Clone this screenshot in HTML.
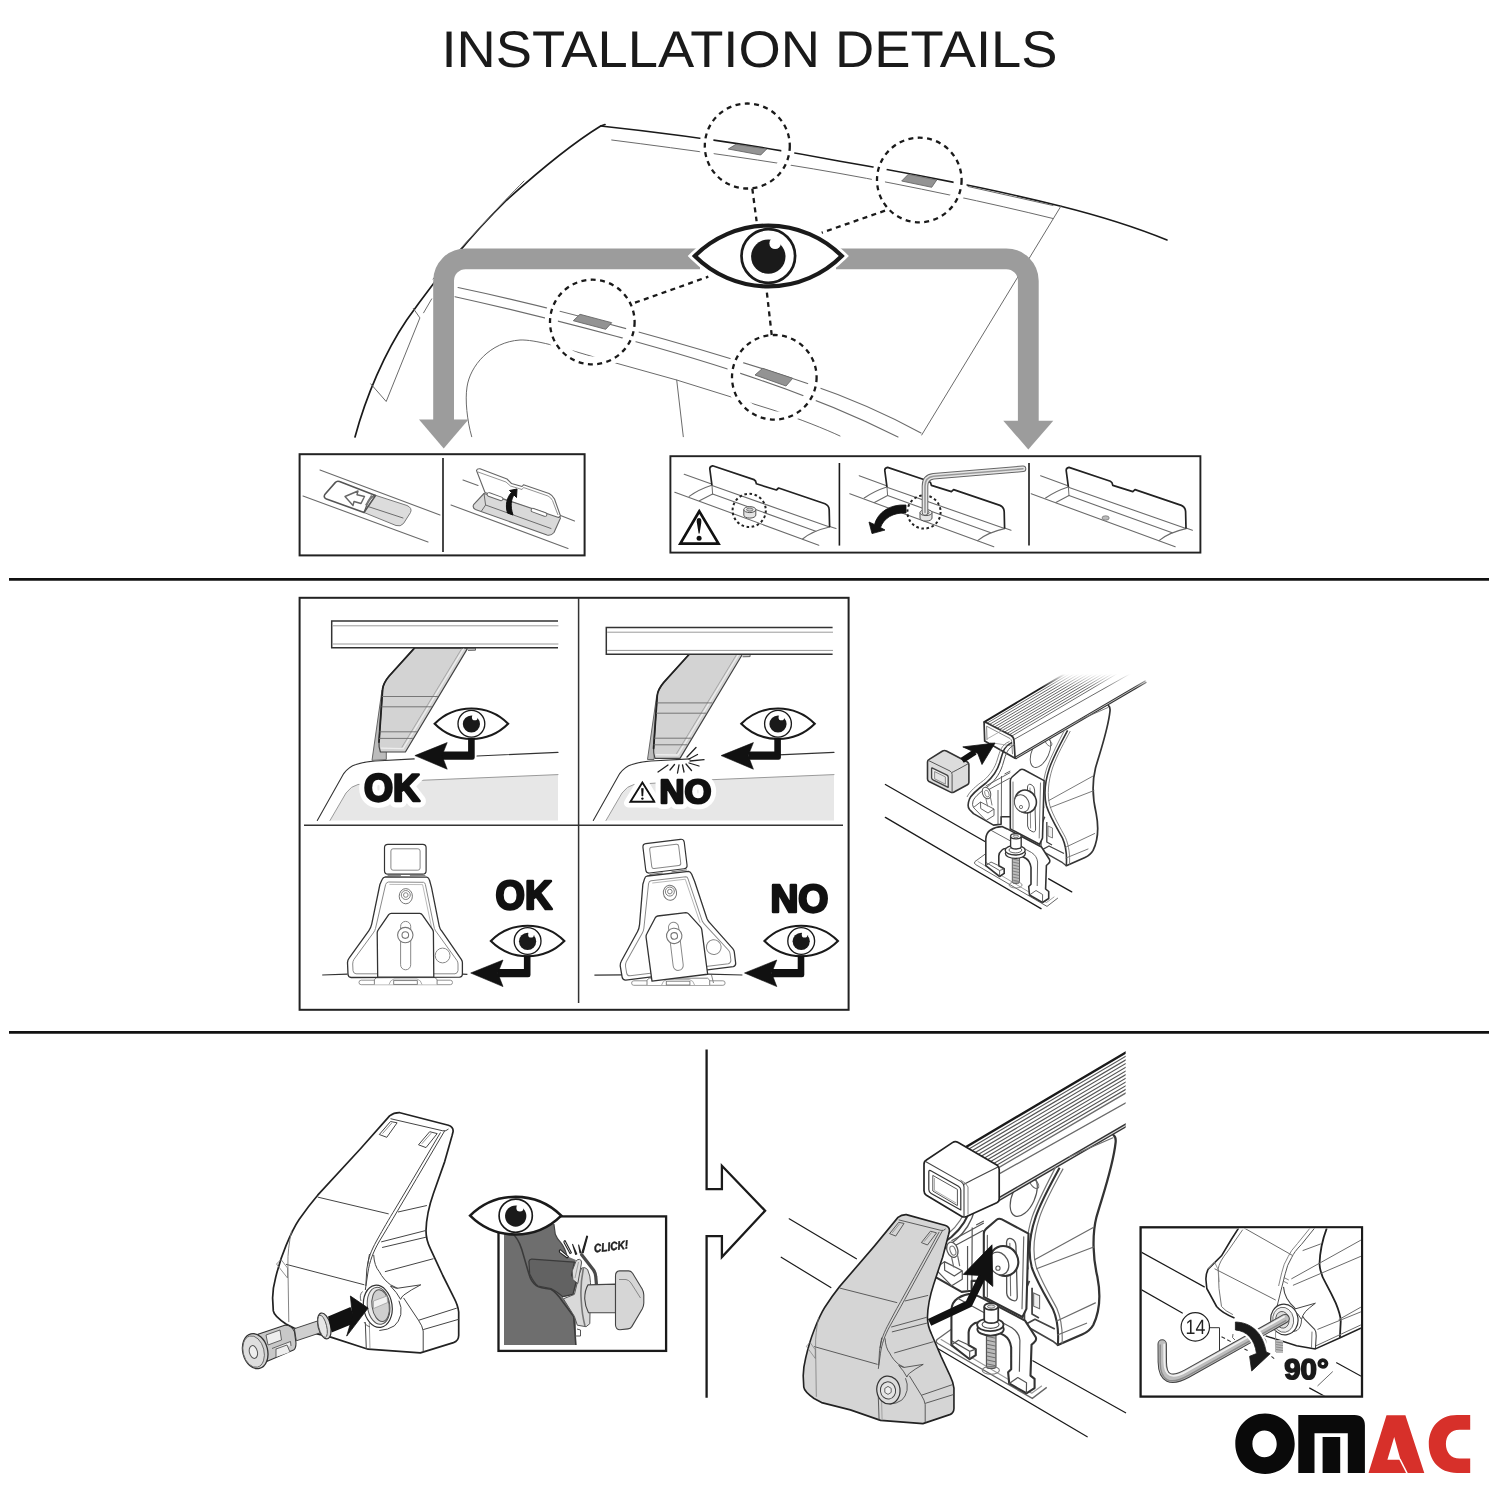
<!DOCTYPE html>
<html><head><meta charset="utf-8"><title>Installation Details</title>
<style>
html,body{margin:0;padding:0;background:#fff;}
body{width:1500px;height:1500px;overflow:hidden;font-family:"Liberation Sans",sans-serif;}
svg{display:block}
text{text-rendering:geometricPrecision;-webkit-font-smoothing:antialiased}
.k{stroke:#1a1a1a;fill:none;stroke-linecap:round;stroke-linejoin:round}
.g{stroke:#6b6b6b;fill:none;stroke-linecap:round;stroke-linejoin:round}
.lg{stroke:#9a9a9a;fill:none;stroke-linecap:round;stroke-linejoin:round}
text{font-family:"Liberation Sans",sans-serif}
</style></head><body>
<svg width="1500" height="1500" viewBox="0 0 1500 1500">
<rect width="1500" height="1500" fill="#fff"/>
<!-- title -->
<text x="441.5" y="66.6" font-size="51.5" fill="#1a1a1a" textLength="616" lengthAdjust="spacingAndGlyphs">INSTALLATION DETAILS</text>
<!-- dividers -->
<line x1="9" y1="579.3" x2="1489" y2="579.3" stroke="#111" stroke-width="2.8"/>
<line x1="9" y1="1032.3" x2="1489" y2="1032.3" stroke="#111" stroke-width="2.8"/>
<!-- boxes -->
<rect x="299.6" y="454.2" width="285" height="101.2" fill="#fff" stroke="#222" stroke-width="2"/>
<line x1="443" y1="458" x2="443" y2="552" stroke="#1a1a1a" stroke-width="1.6"/>
<rect x="670.4" y="456.2" width="530" height="96.4" fill="#fff" stroke="#222" stroke-width="1.9"/>
<line x1="839.4" y1="463" x2="839.4" y2="545.6" stroke="#1a1a1a" stroke-width="1.6"/>
<line x1="1029" y1="463" x2="1029" y2="545.6" stroke="#1a1a1a" stroke-width="1.6"/>
<rect x="299.6" y="597.8" width="549" height="412" fill="#fff" stroke="#222" stroke-width="2"/>
<line x1="578.6" y1="598" x2="578.6" y2="1003" stroke="#333" stroke-width="1.5"/>
<line x1="304" y1="825.2" x2="843" y2="825.2" stroke="#333" stroke-width="1.5"/>

<defs>
<filter id="gs" x="-10%" y="-10%" width="120%" height="120%" color-interpolation-filters="sRGB"><feColorMatrix type="saturate" values="0"/></filter>
<!-- big eye centered at 0,0 : half-width 74.2, half-height 31 -->
<g id="eyeB">
<path d="M-73.5 0 A104 104 0 0 1 73.5 0 A104 104 0 0 1 -73.5 0Z" fill="#fff" stroke="#1a1a1a" stroke-width="4.2" stroke-linejoin="miter"/>
<circle cx="0" cy="0" r="26.8" fill="#fff" stroke="#1a1a1a" stroke-width="2.7"/>
<circle cx="0" cy="0.6" r="17.2" fill="#1a1a1a"/>
<circle cx="6.8" cy="-12.6" r="5.7" fill="#fff"/>
</g>
<g id="eyeS"><use href="#eyeB" transform="scale(0.5)"/></g>
<!-- L-arrow: origin at stem top-center (eye bottom). points left. -->
<g id="larrow">
<path d="M-3.3 -1 L3.3 -1 L3.3 18.5 Q3.3 20.8 1 20.8 L-29.4 20.8 L-29.4 12.6 L-3.3 12.6Z" fill="#111"/>
<path d="M-56.5 16.6 L-24.2 3.6 L-29.4 16.6 L-24.2 30.2Z" fill="#111" stroke="#111" stroke-width="0.6" stroke-linejoin="round"/>
</g>
</defs>

<g id="top">
<defs><g id="roofLines">
<!-- roof outer curve -->
<path class="k" stroke-width="1.7" d="M605 124.5 L600.7 126 C573 143 540 170 506.7 200 C473 233 440 273 406.7 320 C385 352 366 396 355 437"/>
<path class="g" stroke-width="1" d="M524 181 C500 205 470 238 433 279"/>
<!-- roof top edge -->
<path class="k" stroke-width="1.6" d="M600.7 126 C680 134.5 760 146 840 161.3 C920 175 1000 191 1060 206 C1100 216 1140 229 1167 240"/>
<path class="g" stroke-width="1" d="M968 186.5 L1053 205.5"/>
<!-- inner roof line -->
<path class="g" stroke-width="1" d="M611.7 140 C690 150 770 161 840 173.5 C910 186 990 203 1053 218.5"/>
<!-- rear roof edge -->
<path class="g" stroke-width="1" d="M1061 206 L921.7 435"/>
<!-- near-side rails -->
<path class="g" stroke-width="1.1" d="M458 287.5 C560 309 700 347 806 383 C850 398 890 416 921 433"/>
<path class="g" stroke-width="1.1" d="M455 296.7 C560 320 680 352 760 380 C810 397 860 418 898 437"/>
<!-- door window frame -->
<path class="g" stroke-width="1" d="M471.7 436.7 C467 420 465 400 467 387 C470 366 490 342 520 340 C535 339.5 560 347 593 356.7 L676.7 380 L773 410 C800 419 825 429 840 436"/>
<path class="g" stroke-width="1" d="M676.7 380 L683.3 436.7"/>
<!-- mirror / a-pillar -->
<path class="g" stroke-width="1" d="M413.3 308.4 L419.9 317.9 L386.2 401.5 L370.8 383.9 M431.7 298.9 L423.6 312.8"/>
</g>
<clipPath id="cc0"><circle cx="747.3" cy="146" r="34.5"/></clipPath><clipPath id="cc1"><circle cx="919.3" cy="180" r="34.5"/></clipPath><clipPath id="cc2"><circle cx="592.3" cy="322" r="34.5"/></clipPath><clipPath id="cc3"><circle cx="774.3" cy="377.3" r="34.5"/></clipPath></defs>
<use href="#roofLines"/>
<g fill="#fff" stroke="none"><circle cx="747.3" cy="146" r="47.5"/><circle cx="919.3" cy="180" r="47.5"/><circle cx="592.3" cy="322" r="47.5"/><circle cx="774.3" cy="377.3" r="47.5"/></g>
<use href="#roofLines" clip-path="url(#cc0)"/>
<use href="#roofLines" clip-path="url(#cc1)"/>
<use href="#roofLines" clip-path="url(#cc2)"/>
<use href="#roofLines" clip-path="url(#cc3)"/>
<!-- dotted circles -->
<g fill="#fff" stroke="#1a1a1a" stroke-width="2.3" stroke-dasharray="5 4.4">
<circle cx="747.3" cy="146" r="42.5" fill="none"/>
<circle cx="919.3" cy="180" r="42.3" fill="none"/>
<circle cx="592.3" cy="322" r="42.3" fill="none"/>
<circle cx="774.3" cy="377.3" r="42.3" fill="none"/>
</g>
<!-- gray pads -->
<g fill="#939393" stroke="#666" stroke-width="0.9">
<path d="M728.3 149 L736 144.3 L766.7 149 L760.7 155Z"/>
<path d="M901.7 181 L908.3 174.3 L936.7 180 L931.7 187.3Z"/>
<path d="M573.3 320.7 L580 314.3 L611.7 322.7 L605.7 329.3Z"/>
<path d="M755 375 L762.7 368.3 L792.7 378.3 L786 386Z"/>
</g>
<!-- dotted connectors -->
<g stroke="#1a1a1a" stroke-width="2.3" stroke-dasharray="5 4.4" fill="none">
<path d="M752.3 188.7 L756.7 222"/>
<path d="M885 210.7 L821.7 232.7"/>
<path d="M635 302.7 L708.3 276.7"/>
<path d="M771.7 335 L766.7 291"/>
</g>
<!-- gray arrows -->
<g fill="none" stroke="#9c9c9c" stroke-width="20.8">
<path d="M700 258.8 L465.6 258.8 A22 22 0 0 0 443.6 280.8 L443.6 421"/>
<path d="M836 258.8 L1006.3 258.8 A22 22 0 0 1 1028.3 280.8 L1028.3 422"/>
</g>
<path fill="#9c9c9c" d="M419 419.5 L468.5 419.5 L443.7 448.5Z"/>
<path fill="#9c9c9c" d="M1003.3 420.7 L1053.3 420.7 L1028.3 449.5Z"/>
<!-- eye -->
<path d="M694.8 256 A104 104 0 0 1 841.8 256 A104 104 0 0 1 694.8 256Z" fill="#fff" stroke="#fff" stroke-width="10" stroke-linejoin="miter"/>
<use href="#eyeB" x="768.3" y="256"/>
</g>

<g id="boxL1">
<!-- left cell: sliding cover -->
<path class="g" stroke-width="1.1" d="M320 470 L440 515"/>
<path class="g" stroke-width="1.1" d="M303 496 L428 542"/>
<path d="M374.5 495 L407 505.5 Q412.5 508 410.5 512.5 L403.5 523.5 Q400.5 527 396 525.5 L364 512.5Z" fill="#dcdcdc" stroke="#777" stroke-width="1"/>
<path class="g" stroke-width="1" d="M368 506.5 L403 518"/>
<path d="M339.5 481.6 Q337 480.6 335.2 482.6 L324.8 494.5 Q323.2 497.6 326.5 499 L364 512.5 L375.5 495.5Z" fill="#fff" stroke="#555" stroke-width="1.6" stroke-linejoin="round"/>
<path d="M364 512.5 L368.5 500.5 L374.5 495" fill="none" stroke="#555" stroke-width="1.2"/>
<path d="M366 505.5 L372 495.5" fill="none" stroke="#777" stroke-width="2.2"/>
<!-- white arrow -->
<path d="M345 496.5 L358 491 L357 494.8 L364.5 496.5 L361 503.5 L354 501.5 L353 505.5Z" fill="#fff" stroke="#666" stroke-width="1.4" stroke-linejoin="round"/>
</g>
<g id="boxL2">
<path class="g" stroke-width="1.1" d="M463 480 L478 485.5"/>
<path class="g" stroke-width="1.1" d="M558 514.5 L574.5 521"/>
<path class="g" stroke-width="1.1" d="M451 505 L568 548.5"/>
<!-- slot -->
<path d="M484 493.5 L473.6 504.6 Q472.2 507.8 475.4 509.4 L547 535 Q551 536 554 532.5 L560.5 518 L558 515Z" fill="#d9d9d9" stroke="#666" stroke-width="1.1" stroke-linejoin="round"/>
<path class="g" stroke-width="1" d="M485.6 505 L551 528.5"/>
<path class="g" stroke-width="1" d="M484 493.5 L485.6 505 L481.5 511"/>
<!-- flap -->
<path d="M476.5 470.5 Q477 468.5 480 468.8 L507 479 L511.5 483.5 L522 486.5 L523.5 484.8 L549 493.5 Q553 495.5 554.5 499 L560.5 516 L558.5 517.5 L485 492.5 Z" fill="#fff" stroke="#666" stroke-width="1.1" stroke-linejoin="round"/>
<path d="M478 472 L506 482 L510.5 486 L522 489.5 L523.5 487.5 L548 496 Q551 497.5 552.5 500.5 L558 515" fill="none" stroke="#888" stroke-width="0.9"/>
<!-- pins -->
<path d="M489 494.5 L501 498.8" stroke="#666" stroke-width="4.6" stroke-linecap="round"/>
<path d="M489 494.5 L501 498.8" stroke="#fff" stroke-width="2.8" stroke-linecap="round"/>
<path d="M533 510.2 L545 514.5" stroke="#666" stroke-width="4.6" stroke-linecap="round"/>
<path d="M533 510.2 L545 514.5" stroke="#fff" stroke-width="2.8" stroke-linecap="round"/>
<!-- curved arrow -->
<path d="M507.5 513 C505 505 507 497 511.5 492.5 L509.5 490.5 L517 489 L516.5 497.5 L514 495 C511 499.5 510 506 513 515 Z" fill="#111" stroke="#111" stroke-width="1" stroke-linejoin="round"/>
</g>

<defs>
<g id="flapgeo">
<path class="g" stroke-width="1.1" d="M684.2 474.2 L710.8 483.8 M829.6 526.4 L836 528.6"/>
<path class="g" stroke-width="1.1" d="M674.8 492.2 L818.8 545.2"/>
<path class="g" stroke-width="1.1" d="M712 485.6 L829.6 527"/>
<path class="g" stroke-width="1.1" d="M712.6 494 L815.8 531.2"/>
<path class="g" stroke-width="1.1" d="M711 485.6 Q699 489.5 689.2 496.4 M712.6 494 L699.4 500.8 M829.6 527 Q812 531 802.6 539"/>
<path d="M712 485.6 L709.8 469 Q709.6 466.3 712.6 465.8 L754 479.6 Q756 480.5 756.4 483.8 L776.4 490 L778.6 488 L825 503.8 Q829 505.5 829.2 510 L829.6 527" fill="none" stroke="#222" stroke-width="1.7" stroke-linejoin="round"/>
<path class="g" stroke-width="1" d="M712 485.6 L712.6 494"/>
</g>
<g id="bolt">
<path d="M-6 0 L-6 5.5 A6 3 0 0 0 6 5.5 L6 0Z" fill="#e4e4e4" stroke="#555" stroke-width="1"/>
<ellipse cx="0" cy="0" rx="6" ry="3" fill="#eee" stroke="#555" stroke-width="1"/>
<ellipse cx="0" cy="0" rx="3.2" ry="1.6" fill="#ccc" stroke="#555" stroke-width="0.8"/>
</g>
<clipPath id="cR1"><rect x="671.5" y="457.3" width="167" height="94.2"/></clipPath>
<clipPath id="cR2"><rect x="840.4" y="457.3" width="188" height="94.2"/></clipPath>
<clipPath id="cR3"><rect x="1030" y="457.3" width="169.3" height="94.2"/></clipPath>
</defs>
<g clip-path="url(#cR1)">
<use href="#flapgeo"/>
<circle cx="749.2" cy="510.4" r="19" fill="#fff" opacity="0.0"/>
<circle cx="749.2" cy="510.4" r="16.6" fill="none" stroke="#222" stroke-width="2" stroke-dasharray="2.6 2.6"/>
<use href="#bolt" x="749.8" y="509.6"/>
<path d="M699.3 511.3 L680.3 543.6 L718.5 543.6Z" fill="#fff" stroke="#111" stroke-width="2.7" stroke-linejoin="miter"/>
<path d="M699 518 C701.5 518 701.6 521 701.2 523.5 L699.6 533.5 L698.6 533.5 L697 523.5 C696.5 521 696.6 518 699 518Z" fill="#111"/>
<circle cx="699.1" cy="538.2" r="2.5" fill="#111"/>
</g>
<g clip-path="url(#cR2)">
<use href="#flapgeo" transform="translate(175 1.6)"/>
<circle cx="924" cy="512" r="16.6" fill="none" stroke="#222" stroke-width="2" stroke-dasharray="2.6 2.6"/>
<use href="#bolt" x="926" y="512.6"/>
<!-- allen key -->
<path d="M925 512 L925 486 Q925 477.2 933.5 476.2 L1023 468.8" fill="none" stroke="#666" stroke-width="6.6" stroke-linecap="round" stroke-linejoin="round"/>
<path d="M925 512.5 L925 486 Q925 477.2 933.5 476.2 L1023 468.8" fill="none" stroke="#e6e6e6" stroke-width="4.6" stroke-linecap="round" stroke-linejoin="round"/>
<path d="M925 512.5 L925 486 Q925 477.2 933.5 476.2 L1023 468.8" fill="none" stroke="#999" stroke-width="1.6" stroke-linecap="round" stroke-linejoin="round"/>
<!-- curved arrow -->
<path d="M906 505 C890 504 878 512 874.5 524.5 L869 522 L872 533.6 L885 530 L880.5 527.5 C884 518 893 512.5 906 513Z" fill="#111" stroke="#111" stroke-width="0.8" stroke-linejoin="round"/>
</g>
<g clip-path="url(#cR3)">
<use href="#flapgeo" transform="translate(356.4 1.6)"/>
<ellipse cx="1105.6" cy="518" rx="3.6" ry="2.2" fill="#bbb" stroke="#777" stroke-width="0.8"/>
</g>

<defs>
<g id="carTL">
<!-- window -->
<path d="M330 820.5 L346 793 Q351 786 358 784.5 L424 780.2 L558 774.6 L558 820.5Z" fill="#e7e7e7"/>
<path class="lg" stroke-width="1" d="M330 820.5 L346 793 Q351 786 358 784.5 L424 780.2 L558 774.6"/>
<!-- roof -->
<path d="M317.3 820.5 L343.7 773.6 Q349 766.5 356 764.5 Q364 761.8 375 761 L414.2 758.9 M477 756 L558 752.4" fill="none" stroke="#333" stroke-width="1.1" stroke-linecap="round"/>
</g>
<g id="rubberTL"><path d="M382 690 L372 760.4 L386.3 759.6 L386.3 751.6" fill="#bbb" stroke="#666" stroke-width="1"/></g>
<g id="barfootTL">
<!-- foot -->
<path d="M414.4 648.1 L467.7 648.1 L405.4 752 L380.4 752 Q378.6 747 379 742 L382.6 689.2 Q383.3 683 389.2 676 Z" fill="#d3d3d3" stroke="#444" stroke-width="1.2" stroke-linejoin="round"/>
<path d="M414.4 648.1 L389.2 676 Q383.3 683 382.6 689.2 L379 742" fill="none" stroke="#222" stroke-width="1.8" stroke-linecap="round"/>
<path d="M464 648.1 L403.2 748.6 L381 748.2" fill="none" stroke="#eee" stroke-width="1.3"/>
<path class="lg" stroke-width="0.8" d="M462 648.1 L402 747"/>
<path class="g" stroke-width="0.9" d="M382.4 696.5 L437.5 696.5 M381.8 706.8 L431.5 706.8 M380 731.8 L416.5 731.8 M379.4 738.4 L412.5 738.4"/>
<path d="M467.7 648.1 L475.5 648.1 L475.5 650.2 L468 650.4" fill="#ccc" stroke="#555" stroke-width="0.9"/>
<!-- bar -->
<path d="M558 621 L331.7 621 L331.7 647.8 L558 647.8" fill="#fff" stroke="#333" stroke-width="1.5" stroke-linejoin="miter"/>
<path class="lg" stroke-width="1" d="M333 625.8 L558 625.8 M333 644 L558 644"/>
</g>
<clipPath id="cTL"><rect x="301" y="599" width="277" height="225"/></clipPath>
<clipPath id="cTR"><rect x="579.5" y="599" width="268" height="225"/></clipPath>
</defs>
<g clip-path="url(#cTL)">
<use href="#carTL"/>
<use href="#rubberTL"/>
<use href="#barfootTL"/>
<text filter="url(#gs)" x="364" y="801.4" font-size="38.5" font-weight="bold" fill="#fff" stroke="#fff" stroke-width="13" stroke-linejoin="round" textLength="56" lengthAdjust="spacingAndGlyphs">OK</text>
<text filter="url(#gs)" x="364" y="801.4" font-size="38.5" font-weight="bold" fill="#111" stroke="#111" stroke-width="2.6" stroke-linejoin="round" textLength="56" lengthAdjust="spacingAndGlyphs">OK</text>
<use href="#eyeS" x="471.4" y="723.7"/>
<use href="#larrow" x="471.4" y="739"/>
</g>
<g clip-path="url(#cTR)">
<use href="#carTL" transform="translate(276 0)"/>
<path d="M656.6 696.4 L647.5 759.5 L654 759.5 L654.5 752" fill="#bbb" stroke="#666" stroke-width="1"/>
<use href="#barfootTL" transform="translate(274.6 6.4)"/>
<!-- sparks -->
<g stroke="#222" stroke-width="1.3" stroke-linecap="round" fill="none">
<path d="M687 757 L696 747.5 M689 759 L697.5 754.5 M690 761 L704 759.6 M689 763 L699 766 M686 764 L691.5 770.5 M682.5 765 L684 772 M679 765 L677.5 773 M674.5 764.5 L670 770 M668 765 L658 772"/>
</g>
<!-- warning triangle -->
<path d="M642.4 780 L628.4 803 L656.4 803Z" fill="#fff" stroke="#fff" stroke-width="9" stroke-linejoin="round"/>
<path d="M642.4 782.6 L630.4 801.8 L654.4 801.8Z" fill="#fff" stroke="#111" stroke-width="1.9" stroke-linejoin="miter"/>
<path d="M641.5 788.5 L643.3 788.5 L642.9 796 L641.9 796Z" fill="#111" stroke="#111" stroke-width="0.6"/>
<circle cx="642.4" cy="798.6" r="1.2" fill="#111"/>
<text filter="url(#gs)" x="659.6" y="803.2" font-size="33.5" font-weight="bold" fill="#fff" stroke="#fff" stroke-width="12" stroke-linejoin="round" textLength="51.8" lengthAdjust="spacingAndGlyphs">NO</text>
<text filter="url(#gs)" x="659.6" y="803.2" font-size="33.5" font-weight="bold" fill="#111" stroke="#111" stroke-width="2.4" stroke-linejoin="round" textLength="51.8" lengthAdjust="spacingAndGlyphs">NO</text>
<use href="#eyeS" x="778" y="723.7"/>
<use href="#larrow" x="777.6" y="739"/>
</g>

<defs>
<g id="footBody">
<!-- top block -->
<rect x="384.5" y="844.4" width="41.6" height="29.7" rx="3.4" fill="#fff" stroke="#333" stroke-width="1.2"/>
<rect x="390.9" y="848.8" width="29.2" height="21.4" rx="2.2" fill="#fff" stroke="#888" stroke-width="1"/>
<path class="g" stroke-width="0.9" d="M388 875.6 L400.5 875.6 M410.3 875.6 L425 875.6"/>
<!-- body outer -->
<path d="M385.5 876.8 L426.8 877.2 Q428.8 877.6 429.6 880.5 L431.6 887.8 L439.3 926.3 Q440 929 441.5 930.7 L461.3 959.3 Q462.4 961 462.4 962.6 L462.4 974.2 Q462.2 976.9 459.6 977.2 L351.2 977.5 Q348.2 977.2 348 974.2 L347.5 962.6 Q347.7 960 349.1 958.2 L368.9 930.7 Q370.8 928 371.7 924.1 L379.9 884.5 L382.1 879.5 Q383 877 385.5 876.8Z" fill="#fff" stroke="#333" stroke-width="1.3" stroke-linejoin="round"/>
<!-- inner contour -->
<path d="M388.5 882 L423.5 882.3 Q425 882.5 425.4 884.6 L434.4 928.5 Q435.4 931 437.1 932.9 L456.9 960.4 Q458 962 458 964 L458 970.6 Q457.6 973.4 455 973.8 L356 973.8 Q353.2 973.4 353 970.6 L352.7 964 Q352.8 961 354 959.3 L373.3 932.9 Q375 930.6 375.5 928.5 L385.6 884.6 Q386.3 882.2 388.5 882Z" fill="none" stroke="#8a8a8a" stroke-width="1"/>
<path d="M389.4 884.4 L422.6 884.6 L432 929.5" fill="none" stroke="#aaa" stroke-width="0.8"/>
<!-- top bolt -->
<ellipse cx="405.8" cy="896.2" rx="6.6" ry="7.6" fill="#fff" stroke="#777" stroke-width="1"/>
<circle cx="405.8" cy="895" r="4.5" fill="none" stroke="#777" stroke-width="0.9"/>
<circle cx="405.8" cy="895" r="2.3" fill="none" stroke="#777" stroke-width="0.9"/>
<!-- right circle -->
<circle cx="442.6" cy="955.5" r="7.4" fill="#fff" stroke="#888" stroke-width="1"/>
</g>
<g id="footBracket">
<path d="M391.3 913.3 L419.8 913.3 Q421.4 913.5 422.3 914.9 L432.6 929.6 Q433.4 931 433.4 932.5 L433.8 977.2 L377.7 977.2 L377.2 932.8 Q377.3 931 378.2 929.8 L388.7 914.7 Q389.8 913.4 391.3 913.3Z" fill="#fff" stroke="#333" stroke-width="1.3" stroke-linejoin="round"/>
<rect x="400.6" y="921.4" width="10.1" height="48.4" rx="5" fill="#fff" stroke="#888" stroke-width="1"/>
<circle cx="405.3" cy="935.1" r="7.7" fill="#fff" stroke="#777" stroke-width="1.1"/>
<circle cx="405.3" cy="935.1" r="3.3" fill="#fff" stroke="#777" stroke-width="1.1"/>
</g>
<g id="footBase">
<rect x="359" y="980.2" width="93.5" height="4.5" rx="2.2" fill="#fff" stroke="#888" stroke-width="0.9"/>
<path d="M374.4 984.5 L374.4 979.6 L376.6 977.6 L435 977.6 L437.1 979.6 L437.1 984.5" fill="#fff" stroke="#777" stroke-width="0.9"/>
<path d="M389 984.5 Q390 980 394 979 L417 979 Q421 980 422 984.5" fill="none" stroke="#999" stroke-width="0.8"/>
<rect x="393.7" y="980.6" width="23.6" height="3.8" fill="#fff" stroke="#777" stroke-width="0.9"/>
</g>
<clipPath id="cBL"><rect x="301" y="825.4" width="277" height="183"/></clipPath>
<clipPath id="cBR"><rect x="579.5" y="825.4" width="268" height="183"/></clipPath>
</defs>
<g clip-path="url(#cBL)">
<path d="M322.2 975 L347.5 974.2 M462.4 974.2 L467.4 974.4" stroke="#333" stroke-width="1.2" fill="none"/>
<use href="#footBase"/>
<use href="#footBody"/>
<use href="#footBracket"/>
<text filter="url(#gs)" x="495.6" y="909" font-size="40.5" font-weight="bold" fill="#111" stroke="#111" stroke-width="2.6" stroke-linejoin="round" textLength="56.6" lengthAdjust="spacingAndGlyphs">OK</text>
<use href="#eyeS" x="527.6" y="941"/>
<use href="#larrow" x="527.2" y="956.4"/>
</g>
<g clip-path="url(#cBR)">
<path d="M594.4 975.2 L623 974.8 M708 974.2 L742.4 975" stroke="#333" stroke-width="1.2" fill="none"/>
<use href="#footBase" transform="translate(272.6 0.6)"/>
<path d="M711.5 975 L713.5 983" stroke="#777" stroke-width="0.9"/>
<use href="#footBody" transform="translate(158 52.7) rotate(-7)"/>
<use href="#footBracket" transform="translate(158 57.2) rotate(-7)"/>
<text filter="url(#gs)" x="770.4" y="912" font-size="39" font-weight="bold" fill="#111" stroke="#111" stroke-width="2.6" stroke-linejoin="round" textLength="58" lengthAdjust="spacingAndGlyphs">NO</text>
<use href="#eyeS" x="801.2" y="941"/>
<use href="#larrow" x="801" y="956.4"/>
</g>

<defs>
<linearGradient id="fadeT" x1="0" y1="0" x2="0" y2="1"><stop offset="0" stop-color="#fff" stop-opacity="1"/><stop offset="1" stop-color="#fff" stop-opacity="0"/></linearGradient>
<clipPath id="cBar"><rect x="960" y="674" width="200" height="120"/></clipPath>
<clipPath id="cBar2"><rect x="960" y="600" width="157.6" height="200"/></clipPath>
<g id="mrBase"><!-- base plate -->
<path d="M975 861.5 L986 853.5 M1057.9 898 L1047 906.4 L975.5 864.5 Q973.5 863 975 861.5" fill="none" stroke="#666" stroke-width="1"/>
<path class="lg" stroke-width="0.9" d="M978 861.5 L1046.5 902.5 L1054 897"/>
</g>
<g id="mrBar">
<path d="M984.1 722.1 L1146 625.4 L1146 681.4 L1015.1 758.2 L984.7 741.1Z" fill="#fff"/>
<path d="M986.6 723.4 L1146 628.3 M989.2 724.6 L1146 631.1 M991.7 725.9 L1146 633.9 M994.2 727.2 L1146 636.8 M996.8 728.4 L1146 639.6 M999.3 729.7 L1146 642.4 M1001.8 730.9 L1146 645.2 M1004.3 732.2 L1146 648.1 M1006.9 733.5 L1146 650.9 M1009.4 734.7 L1146 653.7" stroke="#555" stroke-width="0.9" fill="none"/>
<path class="k" stroke-width="1.83" d="M984.1 722.1 L1146 625.4"/>
<path class="g" stroke-width="1" d="M1011.9 736.0 L1146 656.5 M1014.5 739.2 L1146 664.8"/>
<path d="M1015.1 758.2 L1146 681.4" stroke="#333" stroke-width="2.93" fill="none"/>
<path d="M1015.1 758.2 L1146 681.4" stroke="#ddd" stroke-width="0.8" fill="none"/>
</g>
<g id="mrBarEnd">
<path d="M984.1 723.5 Q984 721.6 986 722.6 L1011 735.6 Q1013.8 737.2 1014 740.5 L1015.1 758.2 L984.7 741.1Z" fill="#fff" stroke="#333" stroke-width="1.71" stroke-linejoin="round"/>
<path d="M986.6 726.2 L1010 738.5 Q1011.6 739.5 1011.7 741.5 L1012.5 754.2 M986.6 726.2 L987 740" fill="none" stroke="#777" stroke-width="0.9"/>
<path class="lg" stroke-width="0.8" d="M987 739 L1008 727 M990 742.5 L1012 746"/>
</g>
<g id="mrOval"><!-- oval behind -->
<ellipse cx="1040.5" cy="752" rx="8.5" ry="16.5" fill="none" stroke="#555" stroke-width="0.9" transform="rotate(24 1040.5 752)"/>
<ellipse cx="1048.5" cy="742.5" rx="2.4" ry="4.4" fill="none" stroke="#666" stroke-width="0.8" transform="rotate(-40 1048.5 742.5)"/>
</g>
<g id="mrCover"><!-- cover (right) -->
<path d="M1108.4 705.5 Q1110.4 707 1110 711 C1108 730 1100 752 1095.5 768 C1092 782 1093 800 1096.2 813.6 C1098.6 826 1098 840 1093.1 850.4 Q1090.5 855 1085 857.5 L1066.3 865.7 C1064 864 1060 861.5 1056.5 859.5 L1041 850.4 L1041 825.9 L1044.8 816.7 C1043.2 808 1043.6 790 1046.2 778 C1049 764 1056 750 1061 740 L1067.6 730.3Z" fill="#fff" stroke="none"/>
<path d="M1108.4 705.5 Q1110.4 707 1110 711 C1108 730 1100 752 1095.5 768 C1092 782 1093 800 1096.2 813.6 C1098.6 826 1098 840 1093.1 850.4 Q1090.5 855 1085 857.5 L1066.3 865.7" fill="none" stroke="#333" stroke-width="1.71" stroke-linecap="round"/>
<path d="M1067.6 730.3 C1062 741 1054 755 1049.5 768 C1044.8 782 1044 796 1046.5 806 C1049.5 816 1058 830 1062.5 838.1 C1066 846 1067 856 1066.3 865.7" fill="none" stroke="#333" stroke-width="1.59"/>
<path d="M1070.3 731 C1065 741 1057 755 1052.5 768 C1048 782 1047.2 795 1049.7 805 C1052.6 815 1061 829 1065.5 837.6 C1069 846 1070 855 1069.5 864.5" fill="none" stroke="#777" stroke-width="0.9"/>
<path d="M1064.8 729.6 C1059 741 1051.5 755 1046.8 768 C1042.5 781 1041.6 797 1044 808" fill="none" stroke="#777" stroke-width="0.9"/>
<path d="M1044.8 816.7 L1041 825.9 L1041 850.4 L1062.5 862.7 L1066.3 865.7 M1041 850.4 L1049 846 L1064 853.5 M1046.8 822 L1046.8 842 L1052 845" fill="none" stroke="#444" stroke-width="1.34" stroke-linejoin="round"/>
<path d="M1048 826 L1052.5 828 L1052.5 838 L1048 836Z" fill="#eee" stroke="#666" stroke-width="0.8"/>
<path class="g" stroke-width="0.9" d="M1048.7 800.6 L1093.1 776 M1050.2 807.5 L1093.9 790.6 M1065.5 847.3 L1094.7 833.5 M1066 858 L1088 849 M1075 722 L1108 707.5"/>
</g>
<g id="mrPlate"><!-- center bracket plate -->
<path d="M1010.3 781 Q1010.2 778.5 1012 777 L1020 770 Q1021.8 768.6 1024 769.8 L1044.1 780.6 L1042.5 838.1 L1039.5 844.3 L1010.3 828.9Z" fill="#fff" stroke="#333" stroke-width="1.59" stroke-linejoin="round"/>
<path class="g" stroke-width="0.9" d="M1013 782 L1013 829 M1040.5 783 L1039.2 838"/>
<!-- slot and knob -->
<path d="M1027.5 787 Q1028 783.5 1031 784.5 Q1034.5 786 1034.6 790 L1035.6 829 Q1035.5 833 1032 831.5 Q1028 830 1027.6 826Z" fill="#fff" stroke="#555" stroke-width="1"/>
<path class="g" stroke-width="0.8" d="M1030 788 L1030.6 828"/>
<ellipse cx="1025.6" cy="801.5" rx="10.6" ry="11.6" fill="#fff" stroke="#333" stroke-width="1.59" transform="rotate(-25 1025.6 801.5)"/>
<ellipse cx="1021.8" cy="803.4" rx="7" ry="9" fill="#fff" stroke="#555" stroke-width="1" transform="rotate(-25 1021.8 803.4)"/>
<circle cx="1021" cy="807" r="1.6" fill="#fff" stroke="#555" stroke-width="0.8"/>
</g>
<g id="mrLeftB"><!-- left bracket -->
<path d="M1012 742.5 C1004 746 1003 752 1000.5 760 C998 770 993 777 986 783 C978 789 971.5 794 969.5 799 C967.5 804 967.5 807 969.5 809.5 L973.5 813.6 L993.5 825.1 L1001.1 824.3 L1001.1 816.7 L1010.3 816.7" fill="none" stroke="#333" stroke-width="1.59" stroke-linejoin="round"/>
<path d="M1015 744.5 C1007 748.5 1006 754 1003.5 762 C1001 772 996 779.5 989 785.5 C982 791 975 796 973 801 Q971.8 805 973.5 807.5" fill="none" stroke="#555" stroke-width="1"/>
<path d="M1009.5 741.5 C1001.5 744.5 1000 751 997.5 759 C995 768 990 775 983.5 780.5 C976 786 969.5 791.5 967 797" fill="none" stroke="#777" stroke-width="0.9"/>
<path d="M998 790 L998 824.5 M1001.5 776 L1001.3 816.5 M1004.5 774 L1010.3 771 M985.8 786 L1010.3 772.5 M988 790 L1010 778" fill="none" stroke="#555" stroke-width="0.9"/>
<path d="M973.5 807.5 L980.5 802 L994 809 L994 815.5 L986 820.5 Z M980.5 802 L980.7 808.5 L988 813 L994 809" fill="none" stroke="#555" stroke-width="0.9" stroke-linejoin="round"/>
<ellipse cx="986.5" cy="793" rx="4" ry="6" fill="#fff" stroke="#555" stroke-width="1" transform="rotate(-20 986.5 793)"/>
<ellipse cx="986.9" cy="793.6" rx="2" ry="3.6" fill="none" stroke="#777" stroke-width="0.8" transform="rotate(-20 986.9 793.6)"/>
<path class="g" stroke-width="0.9" d="M986 799 L987.5 806 M990.5 797.5 L992 805"/>
</g>
<g id="mrClamp"><!-- clamp -->
<path d="M985.8 865.7 L985.8 839 Q986 833 990.5 830 Q996 826.5 1002 826.6 L1007.3 828.9 L1041.5 847 L1049.5 859.5 Q1050.5 862 1048.5 863.5 L1046.4 865.5 L1045.6 889 L1048.7 891.5 L1048.7 898.5 L1042.5 902.5 L1029.5 895 L1028.7 886.5 L1031 884.2 L1031 867.5 Q1030 861 1026 858.5 L1021.5 856 L1010.5 850 Q1005 847 1002 850 Q999 852.5 998.8 856 L998.8 865.7 L1004.2 868.8 L1004.2 873.4 L999.6 876.5Z" fill="#fff" stroke="#333" stroke-width="1.59" stroke-linejoin="round"/>
<path d="M990.5 830 L1031.5 852.5 Q1037 856 1037.6 862 L1037.2 886 M985.8 865.7 L991 862 L998.8 865.7 M1029.5 895 L1036 890.5 L1042.6 894.5 L1042.5 902.5 M999.6 876.5 L999.6 870.5 L1004.2 868.8 M999.6 870.5 L986 862.5" fill="none" stroke="#555" stroke-width="0.9" stroke-linejoin="round"/>
<!-- bolt -->
<rect x="1012.3" y="856" width="7.2" height="27.5" rx="2" fill="#bbb" stroke="#555" stroke-width="0.9"/>
<path d="M1012.5 859 L1019.3 860.5 M1012.5 862 L1019.3 863.5 M1012.5 865 L1019.3 866.5 M1012.5 868 L1019.3 869.5 M1012.5 871 L1019.3 872.5 M1012.5 874 L1019.3 875.5 M1012.5 877 L1019.3 878.5 M1012.5 880 L1019.3 881.5" stroke="#666" stroke-width="0.7" fill="none"/>
<ellipse cx="1015.4" cy="853.6" rx="10" ry="4.8" fill="#fff" stroke="#333" stroke-width="1.34"/>
<ellipse cx="1015.2" cy="850.2" rx="10" ry="4.8" fill="#fff" stroke="#333" stroke-width="1.34"/>
<ellipse cx="1015.4" cy="850" rx="6.4" ry="2.9" fill="#fff" stroke="#555" stroke-width="0.9"/>
<path d="M1010.6 836.5 L1010.6 846.6 A5.3 2.4 0 0 0 1021.2 846.6 L1021.2 836.5" fill="#fff" stroke="#333" stroke-width="1.34"/>
<ellipse cx="1015.9" cy="836.3" rx="5.3" ry="2.6" fill="#fff" stroke="#333" stroke-width="1.34"/>
<ellipse cx="1015.9" cy="836.3" rx="2.8" ry="1.3" fill="#ddd" stroke="#555" stroke-width="0.7"/>
<ellipse cx="1015.6" cy="885" rx="6.5" ry="3" fill="none" stroke="#777" stroke-width="0.8"/>
</g>
</defs>
<g id="midright">
<!-- roof rails -->
<path class="k" stroke-width="1.34" d="M885.4 784.5 L985.8 842 M885.4 817.4 L1041 908.7 M1048.7 878.8 L1071.7 891.8"/>
<use href="#mrBase"/>
<use href="#mrOval"/>
<g clip-path="url(#cBar)"><use href="#mrBar"/><use href="#mrBarEnd"/><rect x="960" y="674" width="200" height="14" fill="url(#fadeT)"/></g>
<use href="#mrCover"/>
<use href="#mrPlate"/>
<use href="#mrLeftB"/>
<use href="#mrClamp"/>
<!-- end cap -->
<path d="M927.5 762.2 Q927.4 760.3 929.2 759.4 L942.6 751 Q944.4 750 946.4 751 L967.4 762 Q968.9 763 968.9 765 L968.9 782.2 Q968.9 783.9 967.4 784.7 L953.6 792.2 Q952.1 792.9 950.5 792.1 L929 781.5 Q927.5 780.6 927.5 779Z" fill="#dcdcdc" stroke="#333" stroke-width="1.59" stroke-linejoin="round"/>
<path d="M928.5 760.5 L950 771 Q952.1 772.2 952.1 774.5 L952.1 792.6 M952 772.4 Q954 771.6 968.4 763.6" fill="none" stroke="#555" stroke-width="1"/>
<path d="M932 767.8 L947 775.2 Q948.2 775.9 948.2 777.3 L948.2 787.3 L933 779.8 Q931.6 779.2 931.6 777.8 L931.6 768.4Z" fill="#efefef" stroke="#444" stroke-width="1.34" stroke-linejoin="round"/>
<path d="M934.6 771.6 L945.4 776.9 L945.4 784.2 L934.6 778.8Z" fill="#e4e4e4" stroke="#777" stroke-width="0.8"/>

<!-- black arrow -->
<path d="M960.5 758 L973.5 749.5 L976.5 754.4 L963.8 762.8Z" fill="#111"/>
<path d="M962.8 746.9 L995 743.1 L982 764.5 L977.8 753.5Z" fill="#111" stroke="#111" stroke-width="0.8" stroke-linejoin="round"/>


</g>

<defs>
<path id="coverOutline" d="M389.6 1115.9 Q394 1112.5 399.9 1112.7 L448.4 1125.2 Q453.5 1127 453.1 1131.5 L452.1 1135.5 L444.7 1161.6 L433.5 1193.3 C429 1206 426.3 1218 426 1230.7 C426 1238 428 1244 430.7 1249.3 L442.8 1275.5 L454 1297.9 Q458 1305.5 458.7 1312 L458.7 1335.5 Q458.6 1340.8 453.5 1342.6 L420.4 1352.9 L368.1 1349.2 L330.8 1337.1 L295.3 1328.7 L286 1324 Q274 1316 273.3 1310.9 L272.6 1297.9 Q272.8 1288 275.7 1277.3 C278.5 1266 282 1255 286 1245.6 C290 1236 294 1227 299.1 1219.5 C305 1211 311 1203 317.7 1195.2 L360.7 1148.5Z" stroke-linejoin="round"/>
<g id="coverLines">
<g fill="none" stroke="#444" stroke-width="1">
<path d="M390.5 1118.7 L442.8 1130.8 Q446 1131.5 448.5 1129 M444.7 1130.8 L416.7 1178.4 L398 1210.1 C391 1222 385 1232 379.5 1241 C373 1252 369.5 1262 368 1272 L365.3 1290"/>
<path d="M440.5 1132.5 L410 1184 L393 1212.5 C386 1224 381 1233 376.5 1241 C371 1251 368.5 1258 367.5 1266"/>
<path d="M379.3 1134.5 L390.5 1121.5 L397.1 1122.8 L386.8 1137.3Z M418.5 1144.8 L429.7 1131.7 L437.2 1133.6 L426 1147.6Z"/>
<path d="M382.5 1133.6 L391.8 1123 M421.8 1143.8 L431.2 1133.2" stroke="#777" stroke-width="0.8"/>
<path d="M317.7 1197.1 L388.7 1213.9 M398 1212 L426.9 1205.5"/>
<path d="M286 1264.3 L364.4 1284.8"/>
<path d="M291.6 1230.7 C289 1243 287.6 1254 287.9 1264.3 L288.8 1322.1" stroke="#777" stroke-width="0.9"/>
<path d="M276.5 1264 L281 1259.5 L287.5 1268 L287.5 1278 Z" stroke="#777" stroke-width="0.8"/>
<path d="M381.2 1241.9 L425.1 1230.7 M382.1 1247.5 L426 1237.2 M384.9 1271.7 L433.5 1258.7 M418.5 1320.3 L456.8 1308.1 M423.2 1329.6 L458.7 1319.3"/>
<path d="M403.6 1297.9 L418.5 1320.3 Q422.5 1326 423.2 1331 L423.2 1351.5"/>
<path d="M373.7 1254.9 C374 1262 376 1268 379.3 1271.7 C382 1277 386 1281.5 390.5 1284.8 L398 1288.5"/>
<path d="M369.5 1254 Q366 1268 365.8 1286"/>
<path d="M365.3 1322.1 L366.3 1349"/>
<path d="M369.3 1323 L370 1349" stroke="#888" stroke-width="0.8"/>
</g>
<!-- boss + wing -->
<path d="M398.9 1300.7 Q402 1307 400.8 1314.7 Q399 1322 394.3 1325.9 Q388 1330 379.3 1330.5" fill="none" stroke="#444" stroke-width="1"/>
<path d="M390.5 1286 L396.5 1288.4 L420.8 1284.8 Q411 1289.8 403.8 1295 Q401.6 1296.8 400.6 1299.4 Q397 1292.5 390.5 1286Z" stroke="#444" stroke-width="1" stroke-linejoin="round"/>

</g>
</defs>
<g id="botleft">
<use href="#coverOutline" fill="#fff" stroke="#222" stroke-width="1.7"/>
<use href="#coverLines" fill="#fff"/>
<!-- hole -->
<ellipse cx="377.8" cy="1306.3" rx="14.3" ry="21.2" fill="#fff" stroke="#333" stroke-width="1.2" transform="rotate(-8 377.8 1306.3)"/>
<ellipse cx="378.6" cy="1305.8" rx="11.2" ry="18.6" fill="#e9e9e9" stroke="#555" stroke-width="1" transform="rotate(-8 378.6 1305.8)"/>
<ellipse cx="380.6" cy="1305.6" rx="8.6" ry="16" fill="#cfcfcf" stroke="#555" stroke-width="1" transform="rotate(-8 380.6 1305.6)"/>
<path d="M373.5 1301 L387 1296 L387.6 1302.5 L373.5 1308.5Z" fill="#f2f2f2" stroke="#888" stroke-width="0.6"/>
<path d="M362.5 1291.5 Q359 1295 361 1301 M364 1322 Q366 1326 370 1327" fill="none" stroke="#555" stroke-width="0.9"/>

<!-- pin -->
<path d="M294.4 1328.7 L319.6 1320.3 L321.5 1332.4 L296.3 1340.8Z" fill="#cfcfcf" stroke="#444" stroke-width="1"/>
<ellipse cx="324.3" cy="1325.9" rx="6.2" ry="13.2" fill="#d9d9d9" stroke="#333" stroke-width="1.2" transform="rotate(-14 324.3 1325.9)"/>
<ellipse cx="322.6" cy="1326.3" rx="4" ry="11.4" fill="#e6e6e6" stroke="#555" stroke-width="0.9" transform="rotate(-14 322.6 1326.3)"/>
<path d="M258 1334.3 L284 1325.4 Q291 1324.5 294.4 1331.5 L296 1343 Q296 1348.5 293.5 1350.1 L267.3 1361.3Z" fill="#c8c8c8" stroke="#333" stroke-width="1.1" stroke-linejoin="round"/>
<path d="M266 1335 L280 1330 L281.5 1340 L268 1345Z M272 1348.5 L290.5 1341.5 L291 1346 M276 1357 L276 1349 L287 1345 L290 1352" fill="#eee" stroke="#555" stroke-width="0.9" stroke-linejoin="round"/>
<ellipse cx="255.2" cy="1351.1" rx="12.4" ry="17.8" fill="#d2d2d2" stroke="#333" stroke-width="1.3" transform="rotate(-14 255.2 1351.1)"/>
<ellipse cx="253.6" cy="1351.6" rx="10.4" ry="16" fill="#dedede" stroke="#666" stroke-width="0.9" transform="rotate(-14 253.6 1351.6)"/>
<ellipse cx="253.4" cy="1352" rx="4" ry="6.5" fill="#eee" stroke="#555" stroke-width="1" transform="rotate(-14 253.4 1352)"/>
<!-- arrow -->
<path d="M328 1316.5 L350.5 1307 L356 1322.5 L331.7 1332.4Z" fill="#111"/>
<path d="M350.4 1296 L368.1 1308.1 L346.7 1336.1 L352.5 1316.5Z" fill="#111" stroke="#111" stroke-width="0.8" stroke-linejoin="round"/>

</g>

<g id="divarrow">
<path d="M706.6 1049.4 L706.6 1189.2 L721.9 1189.2 L721.9 1165.8 L765.1 1210.7 L721.9 1257.1 L721.9 1236.1 L706.6 1236.1 L706.6 1397.7" fill="none" stroke="#1a1a1a" stroke-width="2.3" stroke-linejoin="miter" stroke-linecap="butt"/>
</g>
<g id="clickbox">
<rect x="498.5" y="1216.4" width="167.6" height="134.5" fill="#fff" stroke="#1a1a1a" stroke-width="2.3"/>
<!-- dark gray body -->
<path d="M504 1228 L553.9 1224 L555.3 1234.3 Q557 1239 561.2 1243.1 Q565 1248 567.1 1256.3 L575.9 1259.9 L572.2 1273.9 L577.3 1282.7 L573.7 1294.4 L562.7 1297.3 L574.4 1314.9 Q575.6 1317 575.9 1320 L575.9 1345 L504 1345Z" fill="#6e6e6e"/>
<path d="M553.9 1224 L555.3 1234.3 Q557 1239 561.2 1243.1 Q565 1248 567.1 1256.3" fill="none" stroke="#444" stroke-width="1.2"/>
<path d="M512 1233 Q518 1238 521.6 1248.9 L528.9 1273.9 Q531 1282 536.3 1285.6 Q540 1288 550.9 1289.3 Q556 1292 562.7 1301.7 L573.7 1316.4 L575.9 1345" fill="none" stroke="#3a3a3a" stroke-width="1.6" stroke-linejoin="round"/>
<path d="M528.9 1261.4 Q529.5 1259 531.9 1259.2 L574.4 1262.1 L571.5 1275.3 L575.9 1282.7 L572.9 1294.4 L562.7 1296.6 Q556 1291 550.9 1288.5 L538 1286 Q534 1283 529.7 1273.9 Z" fill="#626262" stroke="#3a3a3a" stroke-width="1.2" stroke-linejoin="round"/>
<!-- housing line -->
<path d="M581.7 1254.8 L593.5 1270 Q595.6 1273 595.8 1277 L596.4 1284" fill="none" stroke="#4a4a4a" stroke-width="3.2" stroke-linecap="round" stroke-linejoin="round"/>
<path d="M575 1336 L580.5 1336 L580.5 1330 L577 1329" fill="none" stroke="#555" stroke-width="1"/>
<!-- flange -->
<path d="M581.7 1268 Q585 1266.5 587.6 1269.5 Q590.5 1276 590.5 1282.7 L589.8 1323.7 L586.1 1326.7 L577.3 1325.2 L574.4 1316.4 L563.4 1298.8 L574.4 1294.4 L577.3 1282.7 Q578 1275 581.7 1268Z" fill="#d9d9d9" stroke="#555" stroke-width="1" stroke-linejoin="round"/>
<path d="M583.5 1268 Q580 1285 581.2 1300 Q582 1315 585 1326" fill="none" stroke="#777" stroke-width="1.6"/>
<!-- clip piece -->
<path d="M575.9 1261.5 Q577 1259 579.5 1259.4 Q582 1260 581.5 1263 L577.8 1283.5 L572.9 1279.7 L572.2 1270.9Z" fill="#dcdcdc" stroke="#555" stroke-width="1" stroke-linejoin="round"/>
<path d="M578.5 1262 L575 1278" fill="none" stroke="#999" stroke-width="0.9"/>
<!-- shaft -->
<path d="M588 1284.9 L615.5 1284.1 L615.5 1312.7 L588.5 1312.7 Q585 1306 584.7 1298.8 Q584.8 1290 588 1284.9Z" fill="#d6d6d6" stroke="#444" stroke-width="1.1" stroke-linejoin="round"/>
<!-- knob head -->
<path d="M615.5 1275.5 Q615.6 1271.2 619.5 1270.9 L628.5 1270.9 Q631.2 1271 632.6 1273.2 L642.2 1289 Q643.8 1292 643.8 1295 L643.8 1303 Q643.8 1306 642.2 1309 L631.8 1326.6 Q630.6 1328.6 628 1328.9 L620 1329.8 Q616 1329.5 615.5 1325.2Z" fill="#d6d6d6" stroke="#444" stroke-width="1.1" stroke-linejoin="round"/>
<path d="M619 1279.5 L626 1279.5 Q629 1280 631 1283 L640.5 1298" fill="none" stroke="#888" stroke-width="1"/>
<!-- sparks -->
<g fill="#fff" stroke="#222" stroke-width="1.1" stroke-linejoin="round">
<path d="M560.2 1249.6 Q558.5 1250.8 560 1252.6 L567.2 1258 L568.4 1256.6Z"/>
<path d="M565 1240.5 Q563.5 1241 564 1242.6 L570 1253.6 L571.4 1252.8Z"/>
<path d="M572.6 1244.4 L575.6 1254.4 L576.8 1254Z"/>
<path d="M578.6 1245 L580 1253 L581 1252.8Z"/>
<path d="M586.8 1236 L582 1252.4 L583.2 1252.8 L587.6 1236.4Z" fill="#222"/>
</g>
<g filter="url(#gs)"><text x="594.6" y="1252.6" font-size="11.8" font-weight="bold" font-style="italic" fill="#222" stroke="#222" stroke-width="0.5" transform="rotate(-7 594.6 1252.6)" textLength="34.2" lengthAdjust="spacingAndGlyphs">CLICK!</text></g>
<!-- eye -->
<use href="#eyeB" transform="translate(515.7 1215.7) scale(0.62)"/>
</g>

<g id="botright">
<!-- rails -->
<path class="k" stroke-width="1.2" d="M789.2 1218.8 L856.4 1258.8 M781.2 1257.2 L830.8 1287.6 M936 1347.5 L1087.2 1436.8 M1032.8 1360.8 L1125.6 1412.8"/>
<g transform="matrix(1.322 0 0 1.31 -351.8 211)">
<use href="#mrBase"/>
<use href="#mrOval"/>
<g clip-path="url(#cBar2)"><use href="#mrBar"/></g>
<use href="#mrCover"/>
<use href="#mrPlate"/>
<use href="#mrLeftB"/>
<use href="#mrClamp"/>
</g>
<!-- end cap (white, mounted) -->
<path d="M924 1164.6 Q923.8 1161.6 926.4 1160 L952.4 1142.6 Q955.2 1140.8 958.2 1142.5 L996.8 1165 Q999.2 1166.4 999.2 1169.2 L999.2 1199 Q999.2 1201.6 996.8 1202.8 L966.6 1216.5 Q964 1217.6 961.4 1216.2 L926.4 1195.2 Q924 1193.6 924 1190.8Z" fill="#fff" stroke="#222" stroke-width="1.7" stroke-linejoin="round"/>
<path d="M925.5 1161.5 L961 1181.6 Q964 1183.6 964 1187 L964 1217 M964 1184.4 Q966 1183 998.5 1166.8" fill="none" stroke="#444" stroke-width="1.1"/>
<path d="M960.5 1180 Q966.5 1183 968 1187 M968 1187 L968 1214.5" fill="none" stroke="#777" stroke-width="0.9"/>
<path d="M930.4 1170.6 L958.4 1186.2 Q960.8 1187.6 960.8 1190.2 L960.8 1210 L931.2 1193.4 Q928.8 1192 928.8 1189.4 L928.8 1171.6 Q929 1170 930.4 1170.6Z" fill="#fff" stroke="#333" stroke-width="1.2" stroke-linejoin="round"/>
<path d="M932.8 1175.4 L957.4 1189.4 L957.4 1205.6 L932.8 1191Z" fill="#fff" stroke="#555" stroke-width="1"/>
<path d="M934.5 1178 L934.5 1190.4 L956 1203" fill="none" stroke="#999" stroke-width="0.8"/>
<!-- gray cover -->
<g transform="matrix(0.81 0 0 0.87 582.4 246.6)">
<use href="#coverOutline" fill="#d5d5d5" stroke="#222" stroke-width="2"/>
<use href="#coverLines" fill="#d5d5d5"/>
</g>
<!-- bolt head in cover -->
<ellipse cx="888.4" cy="1390" rx="11.6" ry="14" fill="#dcdcdc" stroke="#333" stroke-width="1.2" transform="rotate(-8 888.4 1390)"/>
<ellipse cx="888" cy="1390.4" rx="7.6" ry="8.6" fill="#e4e4e4" stroke="#444" stroke-width="1" transform="rotate(-8 888 1390.4)"/>
<path d="M884.8 1388.4 L888 1386.4 L891.2 1388.4 L891.2 1392.4 L888 1394.4 L884.8 1392.4Z" fill="#eee" stroke="#555" stroke-width="0.9"/>
<!-- arrow -->
<path d="M929.6 1322.4 L968.8 1304 L983.2 1274.4" fill="none" stroke="#111" stroke-width="7.6" stroke-linejoin="miter" stroke-linecap="butt"/>
<path d="M963.2 1274.4 L992 1244.8 L992.8 1286.4 L980 1275.5Z" fill="#111" stroke="#111" stroke-width="0.8" stroke-linejoin="round"/>
</g>

<defs><clipPath id="cKey"><rect x="1141.7" y="1228.4" width="219.2" height="167.1"/></clipPath></defs>
<g id="keybox">
<rect x="1140.6" y="1227.3" width="221.4" height="169.3" fill="#fff" stroke="#1a1a1a" stroke-width="2.3"/>
<g clip-path="url(#cKey)">
<!-- rails -->
<path class="k" stroke-width="1.2" d="M1140.6 1251.8 L1204.3 1286.9 M1140.6 1289.3 L1182.3 1313 M1336.6 1362.8 L1362 1376.7 M1309.7 1388.1 L1326 1397"/>
<path class="g" stroke-width="1" d="M1317.8 1385.7 L1332.5 1371.8 M1306 1374 L1316 1366"/>
<!-- cover body white -->
<path d="M1238.6 1226 L1231.3 1239.5 L1221.5 1255.8 L1208.4 1268.9 Q1205.5 1274 1206 1280.3 L1206.8 1288.5 L1216.6 1306.5 Q1222 1313 1234.5 1317.9 L1265.6 1335.9 L1296.6 1345.7 L1315.4 1348.9 L1340.7 1337.5 L1364 1327 L1364 1226Z" fill="#fff"/>
<path d="M1238.6 1228.1 L1231.3 1239.5 L1221.5 1255.8 L1208.4 1268.9 Q1205.5 1274 1206 1280.3 L1206.8 1288.5 L1216.6 1306.5 Q1222 1313 1234.5 1317.9" fill="none" stroke="#222" stroke-width="1.6" stroke-linejoin="round"/>
<path d="M1242.7 1229.7 L1228 1250.9 Q1219 1262 1218.2 1268.9 L1219 1288.5 L1221.5 1306.5 Q1225 1311 1232.9 1314.6" fill="none" stroke="#777" stroke-width="1"/>
<path d="M1208.4 1268.9 L1214.5 1262 L1218.4 1270 L1219 1282" fill="none" stroke="#888" stroke-width="0.9"/>
<path class="g" stroke-width="1" d="M1244.3 1228.1 L1291.7 1255 M1214.9 1268.9 L1275.4 1299.9"/>
<!-- front ridge -->
<path d="M1314.6 1228.1 L1301.5 1244.4 Q1294 1252 1291.7 1257.5 Q1287 1265 1285.2 1273.8 L1281.9 1286.9 L1277 1306.5 L1275.4 1329.3" fill="none" stroke="#555" stroke-width="1"/>
<path d="M1310 1228.1 L1297.5 1243.5 Q1290.5 1251 1288.2 1256.5 Q1283.5 1264 1281.7 1272.8 L1278.6 1286" fill="none" stroke="#777" stroke-width="0.9"/>
<path d="M1283 1281 L1288 1283.5 M1283.8 1277.5 L1288.8 1280" stroke="#666" stroke-width="0.8" fill="none"/>
<!-- right dark curve -->
<path d="M1326.8 1228.1 C1323 1238 1320 1250 1319.5 1264 C1320 1272 1322 1277 1326 1283.6 C1330 1291 1333 1297 1335.8 1303.2 C1339 1311 1341 1317 1340.7 1322 L1339.9 1337.5" fill="none" stroke="#222" stroke-width="1.8"/>
<!-- right creases -->
<path class="g" stroke-width="1" d="M1303 1250.5 L1320.5 1244 M1291.7 1278.7 L1362 1239.5 M1293.3 1285.2 L1362 1255.8 M1339 1319.5 L1362 1306.5 M1317.8 1329.3 L1362 1311.4 M1316.2 1345.7 L1362 1324.4"/>
<!-- lower right piece -->
<path d="M1299 1311 L1304.8 1319.5 L1314.6 1329.3 Q1316.5 1332 1316.2 1336 L1315.4 1348.9" fill="none" stroke="#444" stroke-width="1.1"/>
<path d="M1265.6 1335.9 L1296.6 1345.7 L1315.4 1348.9 L1340.7 1337.5 L1362 1327.7" fill="none" stroke="#222" stroke-width="1.5" stroke-linejoin="round"/>
<path class="g" stroke-width="0.9" d="M1312 1332 L1311.5 1347.5"/>
<!-- curve around hole -->
<path d="M1283.5 1286.9 Q1284 1293 1286.8 1298.3 Q1290 1304 1295 1308.1 L1299.9 1311.4" fill="none" stroke="#444" stroke-width="1.1"/>
<!-- wing -->
<path d="M1293 1309.5 L1315.4 1303.2 Q1309 1308 1305.6 1311.4 Q1302.5 1315 1301.5 1319.5 Q1298 1313 1293 1309.5Z" fill="#fff" stroke="#444" stroke-width="1" stroke-linejoin="round"/>
<!-- boss -->
<path d="M1301.5 1319.5 Q1301.5 1327 1297 1330.5 Q1290 1334 1281 1332" fill="none" stroke="#555" stroke-width="1"/>
<ellipse cx="1284.4" cy="1319.5" rx="13.6" ry="15.4" fill="#fff" stroke="#333" stroke-width="1.2" transform="rotate(-10 1284.4 1319.5)"/>
<ellipse cx="1283.2" cy="1319.8" rx="10.4" ry="12.6" fill="#eee" stroke="#666" stroke-width="0.9" transform="rotate(-10 1283.2 1319.8)"/>
<ellipse cx="1282.4" cy="1319.8" rx="6.6" ry="8.4" fill="#ddd" stroke="#555" stroke-width="0.9" transform="rotate(-10 1282.4 1319.8)"/>
<!-- thread below -->
<path d="M1275.5 1330 L1275.8 1352" stroke="#888" stroke-width="0.9" fill="none"/>
<rect x="1276" y="1340" width="7" height="13" fill="#bbb" stroke="none"/>
<path d="M1276 1342 L1283 1343 M1276 1344.5 L1283 1345.5 M1276 1347 L1283 1348 M1276 1349.5 L1283 1350.5" stroke="#777" stroke-width="0.7"/>
<path d="M1221.5 1336.7 L1247.6 1350.6 M1266 1352 L1276 1360" stroke="#333" stroke-width="1.1" stroke-dasharray="4 2.5" fill="none"/>
<path d="M1233 1334 Q1231 1338 1235 1340 M1262 1336 Q1268 1340 1265 1346" stroke="#555" stroke-width="0.9" fill="none"/>
<!-- allen key -->
<path d="M1285 1318.6 L1187 1373.6 Q1162.6 1387 1162.3 1362 L1162.2 1344" fill="none" stroke="#444" stroke-width="9.4" stroke-linecap="round" stroke-linejoin="round"/>
<path d="M1285 1318.6 L1187 1373.6 Q1162.6 1387 1162.3 1362 L1162.2 1344" fill="none" stroke="#bdbdbd" stroke-width="7.4" stroke-linecap="round" stroke-linejoin="round"/>
<path d="M1284 1316.8 L1186 1371.6 Q1164.6 1383.5 1164.3 1361.5 L1164.2 1344.5" fill="none" stroke="#f0f0f0" stroke-width="1.8" stroke-linecap="round" stroke-linejoin="round"/>
<path d="M1285.8 1320.6 L1188 1375.6 Q1160.6 1390.5 1160.2 1362.5 L1160.2 1345" fill="none" stroke="#8a8a8a" stroke-width="1.4" stroke-linecap="round" stroke-linejoin="round"/>
<!-- 14 label -->
<path d="M1210 1327.7 L1219.5 1327.7 L1219.5 1350.6" fill="none" stroke="#333" stroke-width="1"/>
<circle cx="1195.3" cy="1326.9" r="14.2" fill="#fff" stroke="#222" stroke-width="1.2"/>
<g filter="url(#gs)"><text x="1185.6" y="1334.4" font-size="20.8" fill="#222" textLength="19.8" lengthAdjust="spacingAndGlyphs">14</text></g>
<!-- curved arrow -->
<path d="M1235.4 1322 C1250 1322.5 1262.5 1331 1266.2 1351.5 L1269.7 1354.7 L1251.7 1371 L1250.1 1356.3 L1256.5 1352.5 C1254.5 1339 1247 1331 1235.4 1330Z" fill="#fff" stroke="#fff" stroke-width="5" stroke-linejoin="round"/>
<path d="M1235.4 1322 C1250 1322.5 1262.5 1331 1266.2 1352 L1270.2 1353.7 L1251.7 1371 L1249.6 1356.3 L1256.5 1353.5 C1254.5 1339 1247 1331 1235.4 1330Z" fill="#1a1a1a" stroke="#1a1a1a" stroke-width="0.8" stroke-linejoin="round"/>
<!-- 90 -->
<g filter="url(#gs)">
<text x="1284.2" y="1379.2" font-size="28.5" font-weight="bold" fill="#fff" stroke="#fff" stroke-width="8" stroke-linejoin="round" textLength="44.6" lengthAdjust="spacingAndGlyphs">90°</text>
<text x="1284.2" y="1379.2" font-size="28.5" font-weight="bold" fill="#1a1a1a" stroke="#1a1a1a" stroke-width="1.6" stroke-linejoin="round" textLength="44.6" lengthAdjust="spacingAndGlyphs">90°</text>
</g>
</g>
</g>

<g id="logo">
<path fill-rule="evenodd" fill="#0a0a0a" d="M1265 1413.5 C1282 1413.5 1294.7 1426.5 1294.7 1443.7 C1294.7 1461 1282 1473.9 1265 1473.9 C1248 1473.9 1235.3 1461 1235.3 1443.7 C1235.3 1426.5 1248 1413.5 1265 1413.5Z M1264.5 1430.6 C1257.6 1430.6 1252.4 1436.4 1252.4 1443.9 C1252.4 1451.4 1257.6 1457.2 1264.5 1457.2 C1271.4 1457.2 1276.7 1451.4 1276.7 1443.9 C1276.7 1436.4 1271.4 1430.6 1264.5 1430.6Z"/>
<path fill-rule="evenodd" fill="#0a0a0a" d="M1298.3 1414.9 L1354.5 1414.9 Q1364.9 1414.9 1364.9 1425.5 L1364.9 1472.9 L1298.3 1472.9Z M1314.5 1433.3 L1314.5 1472.9 L1322.6 1472.9 L1322.6 1436.9 L1340.2 1436.9 L1340.2 1472.9 L1347.8 1472.9 L1347.8 1433.3Z"/>
<path fill-rule="evenodd" fill="#d7302a" d="M1386.5 1415.3 L1405.4 1415.3 L1424.3 1472.9 L1368.5 1472.9Z M1394.2 1436.9 L1387.4 1459.8 L1400.5 1459.8Z"/>
<path d="M1399.8 1459 L1407.2 1473.5" stroke="#fff" stroke-width="1.6"/>
<path fill="#d7302a" d="M1470.2 1414.9 L1457 1414.9 C1439 1414.9 1428.8 1428 1428.8 1444 C1428.8 1460 1439 1472.9 1457 1472.9 L1470.2 1472.9 L1470.2 1458.5 L1459.5 1458.5 C1451 1458.5 1445.9 1452.5 1445.9 1444 C1445.9 1435.5 1451 1429.7 1459.5 1429.7 L1470.2 1429.7Z"/>
</g>

</svg>
</body></html>
